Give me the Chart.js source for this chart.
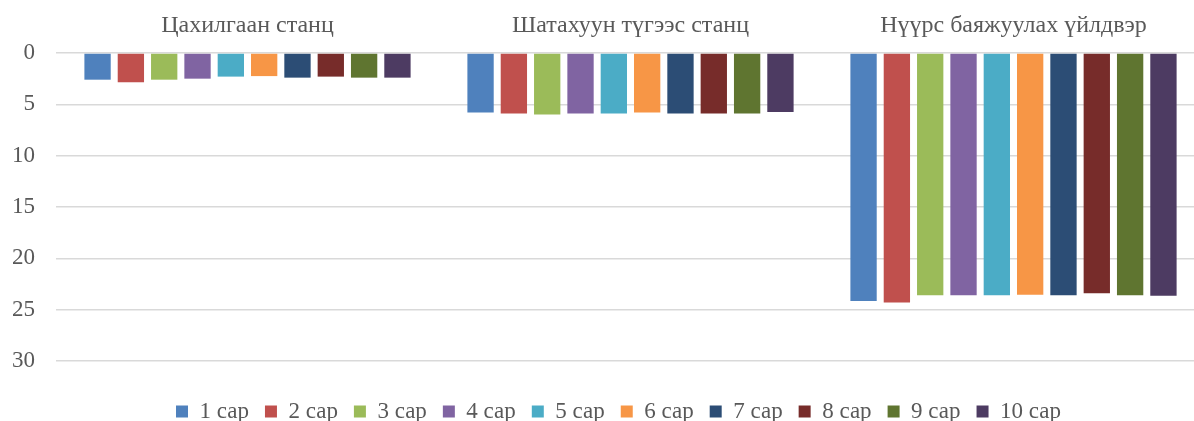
<!DOCTYPE html>
<html>
<head>
<meta charset="utf-8">
<script src="https://cdn.jsdelivr.net/npm/chart.js@4"></script>
<style>
  body { margin: 0; background: #fff; overflow: hidden; }
  /* plot area in the original runs past the right edge, so the canvas is a bit wider than the window */
  #wrap { width: 1205px; height: 421px; position: relative; }
</style>
</head>
<body>
<div id="wrap"><canvas id="c"></canvas></div>
<script>
var categories = ['Цахилгаан станц', 'Шатахуун түгээс станц', 'Нүүрс баяжуулах үйлдвэр'];
var months = ['1 сар', '2 сар', '3 сар', '4 сар', '5 сар', '6 сар', '7 сар', '8 сар', '9 сар', '10 сар'];

// one array per month: [power station, fuel station, coal plant]
var m1 = [2.6, 5.8, 24.15];
var m2 = [2.85, 5.9, 24.3];
var m3 = [2.6, 6.0, 23.6];
var m4 = [2.5, 5.9, 23.6];
var m5 = [2.3, 5.9, 23.6];
var m6 = [2.25, 5.8, 23.55];
var m7 = [2.4, 5.9, 23.6];
var m8 = [2.3, 5.9, 23.4];
var m9 = [2.4, 5.9, 23.6];
var m10 = [2.4, 5.75, 23.65];
var seriesValues = [m1, m2, m3, m4, m5, m6, m7, m8, m9, m10];

var colors = ['#4F81BD', '#C0504D', '#9BBB59', '#8064A2', '#4BACC6',
              '#F79646', '#2C4D75', '#772C2A', '#5F7530', '#4D3B62'];

var datasets = months.map(function (m, i) {
  return {
    label: m,
    data: seriesValues[i],
    backgroundColor: colors[i],
    borderWidth: 0,
    categoryPercentage: 0.87,
    barPercentage: 0.79
  };
});

var font = "'Liberation Serif', 'Times New Roman', serif";

// nudge the legend right so it sits centred like the original
var legendShift = {
  id: 'legendShift',
  afterLayout: function (chart) {
    if (chart.legend) {
      chart.legend.left += 16;
      chart.legend.right += 16;
    }
  }
};

new Chart(document.getElementById('c'), {
  type: 'bar',
  data: { labels: categories, datasets: datasets },
  plugins: [legendShift],
  options: {
    responsive: true,
    maintainAspectRatio: false,
    animation: false,
    events: [],
    layout: { padding: { left: 0, right: 0, top: 0, bottom: -12 } },
    scales: {
      x: {
        position: 'top',
        grid: { display: false, drawTicks: false },
        border: { display: false },
        ticks: { color: '#595959', font: { family: font, size: 24 }, padding: 13 },
        afterFit: function (axis) { axis.height = 53; }
      },
      y: {
        reverse: true,
        min: 0,
        max: 30,
        grid: { color: '#d9d9d9', lineWidth: 1.5, drawTicks: false },
        border: { display: false },
        ticks: { stepSize: 5, color: '#595959', font: { family: font, size: 23 }, padding: 21 },
        afterFit: function (axis) { axis.width = 56; }
      }
    },
    plugins: {
      legend: {
        position: 'bottom',
        // empty title only used as a spacer above the legend items
        title: { display: true, text: ' ', color: 'rgba(0,0,0,0)', font: { size: 10 }, padding: { top: 0, bottom: 11 } },
        labels: {
          boxWidth: 12,
          boxHeight: 12,
          padding: 16,
          color: '#595959',
          font: { family: font, size: 23 }
        }
      },
      tooltip: { enabled: false }
    }
  }
});
</script>
</body>
</html>
